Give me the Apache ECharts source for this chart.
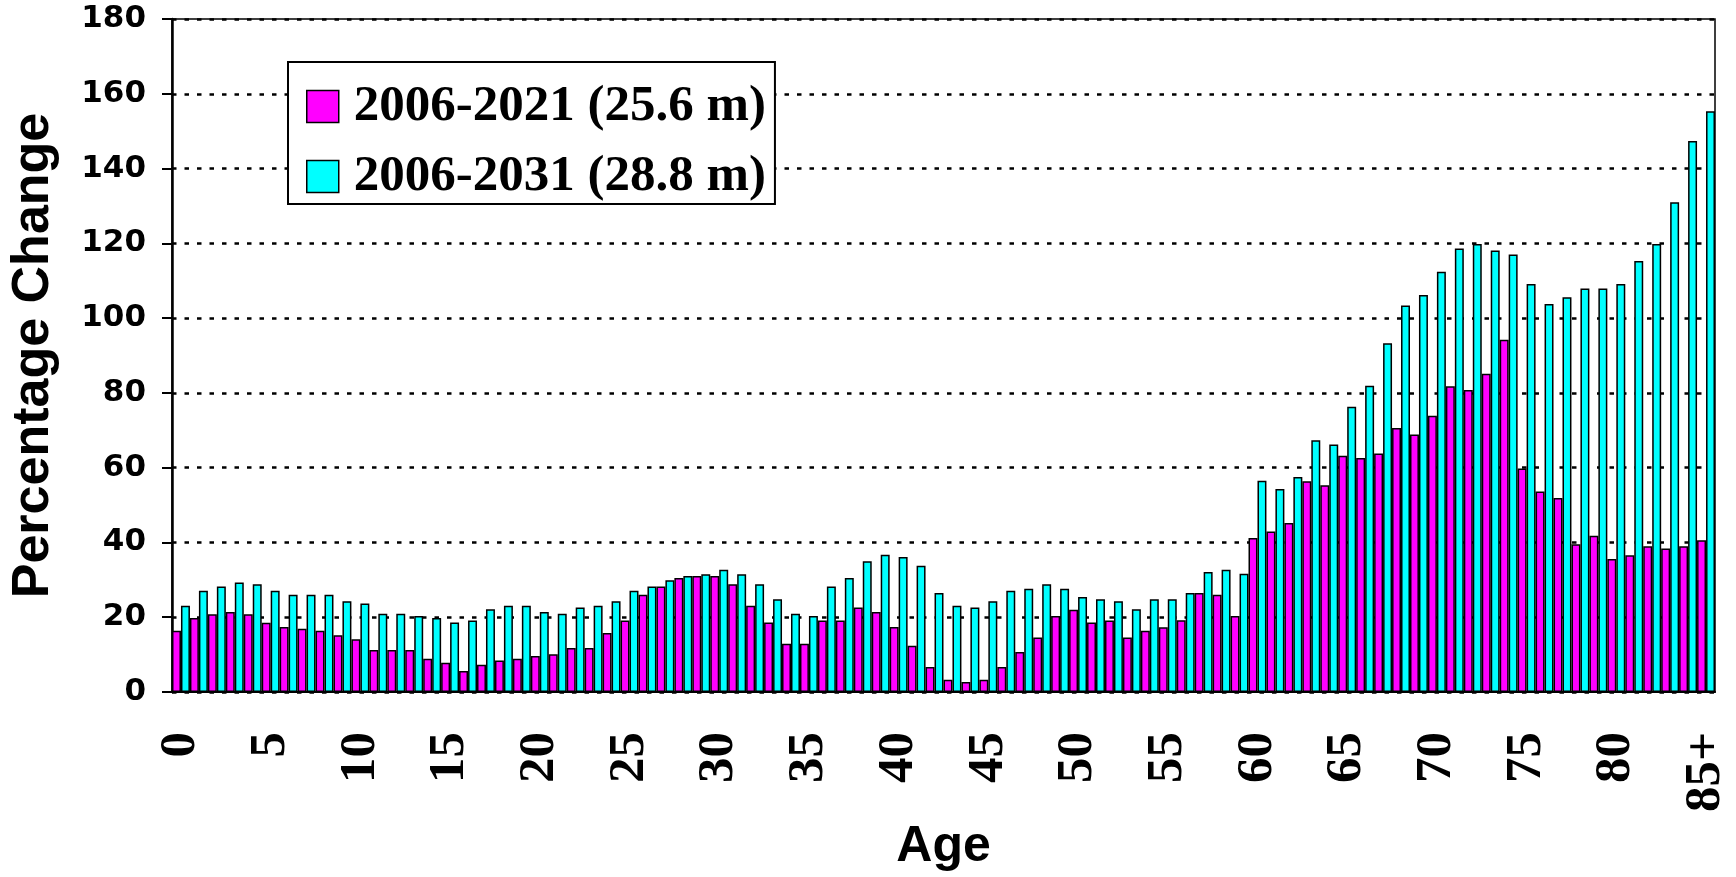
<!DOCTYPE html>
<html>
<head>
<meta charset="utf-8">
<script src="https://cdn.jsdelivr.net/npm/echarts@6/dist/echarts.min.js"></script>
<style>
  html, body { margin: 0; padding: 0; background: #fff; }
  #chart { width: 1736px; height: 877px; }
</style>
</head>
<body>
<div id="chart"></div>
<script>
// ages 0..84 plus the open "85+" group
const ages = [];
for (let a = 0; a < 85; a++) ages.push(String(a));
ages.push('85+');

const seriesNames = ['2006-2021 (25.6 m)', '2006-2031 (28.8 m)'];

// percentage change 2006-2021
const change2021 = [
  16.4, 19.8, 20.8, 21.4, 20.8, 18.5, 17.4, 16.9, 16.4, 15.2,
  14.1, 11.2, 11.2, 11.2, 8.9, 7.8, 5.6, 7.3, 8.4, 8.9,
  9.6, 10.1, 11.8, 11.8, 15.8, 19.1, 26.0, 28.2, 30.5, 31.0,
  31.0, 28.8, 23.1, 18.6, 12.9, 12.9, 19.1, 19.1, 22.6, 21.4,
  17.4, 12.4, 6.7, 3.3, 2.7, 3.3, 6.7, 10.7, 14.6, 20.3,
  22.0, 18.6, 19.1, 14.6, 16.4, 17.3, 19.2, 26.5, 26.0, 20.3,
  41.2, 42.9, 45.2, 56.4, 55.3, 63.2, 62.6, 63.8, 70.6, 68.9,
  73.9, 81.8, 80.8, 85.1, 94.2, 59.8, 53.6, 51.9, 39.5, 41.8,
  35.6, 36.6, 39.0, 38.4, 39.0, 40.6
];

// percentage change 2006-2031
const change2031 = [
  23.1, 27.1, 28.2, 29.3, 28.8, 27.1, 26.0, 26.0, 26.0, 24.3,
  23.7, 20.9, 20.9, 20.3, 19.8, 18.6, 19.1, 22.1, 23.1, 23.1,
  21.4, 20.9, 22.6, 23.1, 24.3, 27.1, 28.2, 29.9, 31.0, 31.5,
  32.7, 31.5, 28.8, 24.8, 20.9, 20.3, 28.2, 30.5, 35.0, 36.7,
  36.1, 33.8, 26.5, 23.1, 22.6, 24.3, 27.1, 27.6, 28.8, 27.6,
  25.4, 24.8, 24.3, 22.1, 24.8, 24.8, 26.5, 32.1, 32.7, 31.6,
  56.5, 54.3, 57.5, 67.3, 66.2, 76.3, 81.9, 93.3, 103.4, 106.2,
  112.4, 118.6, 119.8, 118.1, 117.0, 109.1, 103.8, 105.6, 107.9, 107.9,
  109.1, 115.3, 119.8, 131.0, 147.4, 155.3
];

const chart = echarts.init(document.getElementById('chart'));

const option = {
  animation: false,
  backgroundColor: '#fff',
  grid: {
    left: 166,
    right: 21,
    top: 19,
    bottom: 177,
    show: true,
    borderColor: '#000',
    borderWidth: 1.5
  },
  legend: {
    orient: 'vertical',
    left: 288,
    top: 62,
    padding: [19, 9, 2, 18],
    itemGap: 19,
    itemWidth: 32,
    itemHeight: 32,
    icon: 'rect',
    backgroundColor: '#fff',
    borderColor: '#000',
    borderWidth: 2,
    itemStyle: { borderColor: '#000', borderWidth: 1.5 },
    textStyle: {
      fontFamily: 'Liberation Serif',
      fontWeight: 'bold',
      fontSize: 51,
      color: '#000',
      padding: [0, 0, 0, 10]
    },
    data: seriesNames
  },
  xAxis: {
    type: 'category',
    data: ages,
    name: 'Age',
    nameLocation: 'middle',
    nameGap: 130,
    nameTextStyle: {
      fontFamily: 'Liberation Sans',
      fontWeight: 'bold',
      fontSize: 50,
      color: '#000'
    },
    axisLine: { lineStyle: { color: '#000', width: 2 } },
    axisTick: { show: false },
    axisLabel: {
      interval: 4,
      rotate: 90,
      margin: 40,
      fontFamily: 'Liberation Serif',
      fontWeight: 'bold',
      fontSize: 51,
      color: '#000'
    }
  },
  yAxis: {
    type: 'value',
    min: 0,
    max: 180,
    interval: 20,
    name: 'Percentage Change',
    nameLocation: 'middle',
    nameGap: 112,
    nameTextStyle: {
      fontFamily: 'Liberation Sans',
      fontWeight: 'bold',
      fontSize: 52,
      color: '#000'
    },
    axisLine: { show: true, lineStyle: { color: '#000', width: 2.5 } },
    axisTick: { show: true, length: 10, lineStyle: { color: '#000', width: 2 } },
    axisLabel: {
      margin: 26,
      fontFamily: 'DejaVu Sans',
      fontWeight: 'bold',
      fontSize: 31,
      color: '#000'
    },
    splitLine: {
      show: true,
      lineStyle: { color: '#000', width: 2.5, type: [4.5, 8] }
    }
  },
  series: [
    {
      name: seriesNames[0],
      type: 'bar',
      data: change2021,
      barGap: '0%',
      barCategoryGap: '0%',
      itemStyle: { color: '#ff00ff', borderColor: '#000', borderWidth: 1.5 }
    },
    {
      name: seriesNames[1],
      type: 'bar',
      data: change2031,
      barGap: '0%',
      barCategoryGap: '0%',
      itemStyle: { color: '#00ffff', borderColor: '#000', borderWidth: 1.5 }
    }
  ]
};

chart.setOption(option);
</script>
</body>
</html>
